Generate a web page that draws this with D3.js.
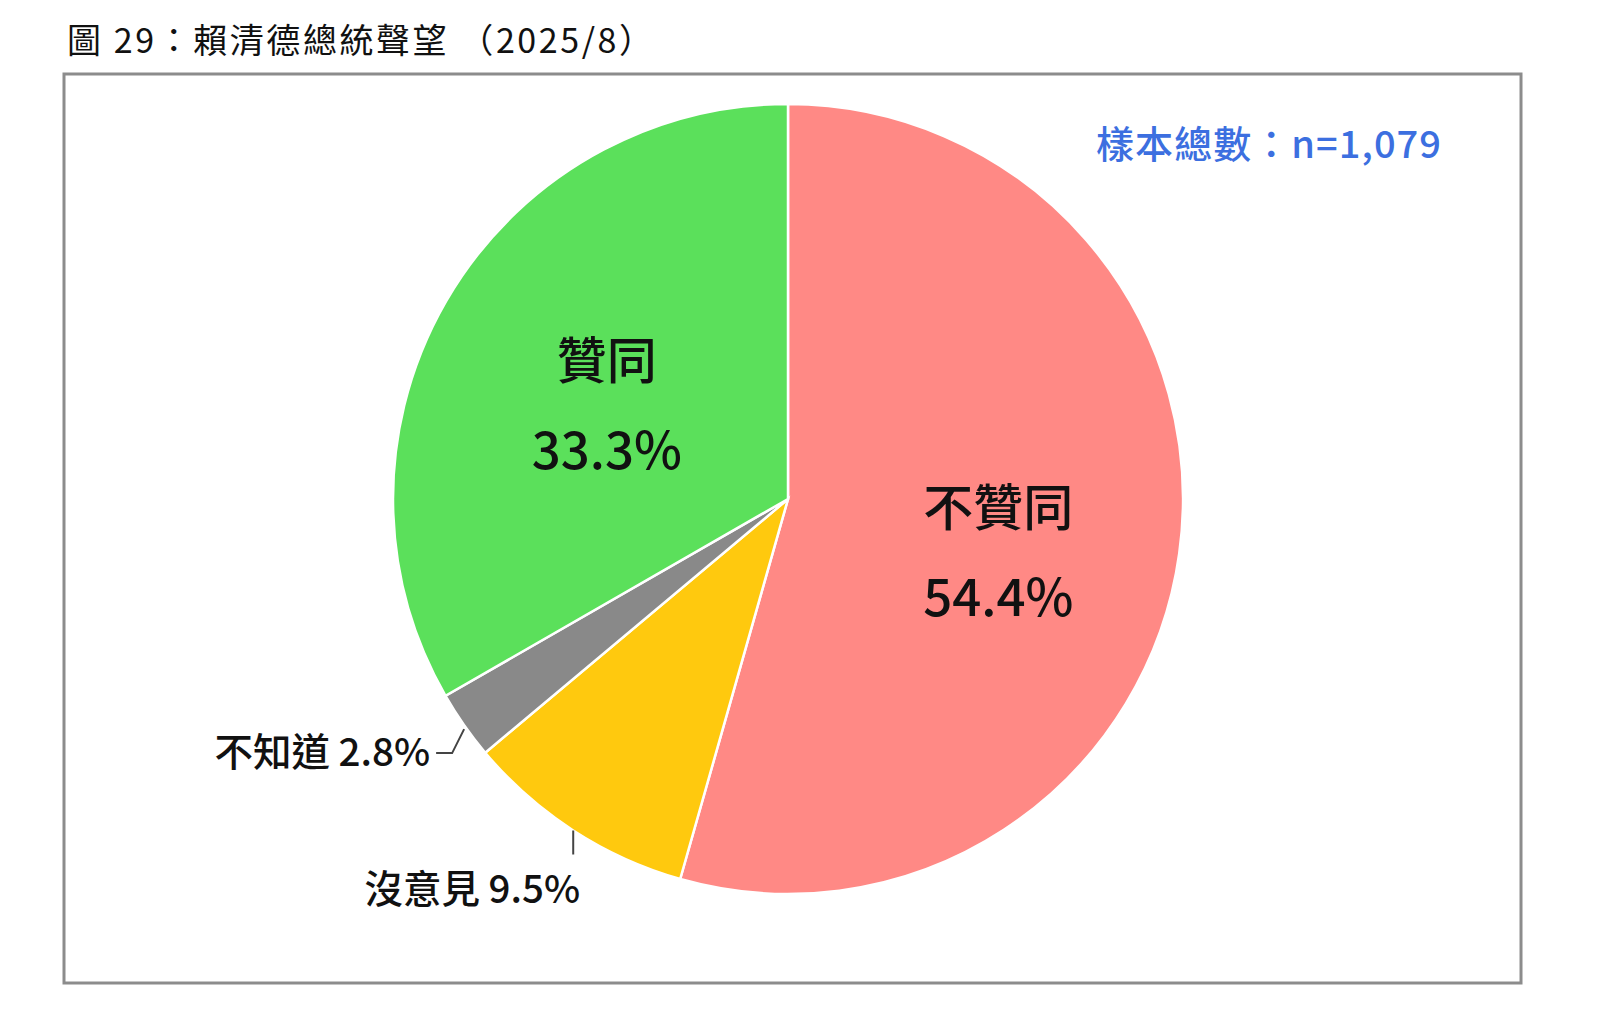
<!DOCTYPE html>
<html>
<head>
<meta charset="utf-8">
<script src="https://cdn.jsdelivr.net/npm/d3@7"></script>
<style>
  body { margin: 0; background: #fff; }
  text { font-family: "Noto Sans CJK TC", "Noto Sans", sans-serif; }
</style>
</head>
<body>
<svg id="chart" width="1614" height="1013"></svg>
<script>
// chart data
var categories = ["不贊同", "沒意見", "不知道", "贊同"];
var values = [54.4, 9.5, 2.8, 33.3];
var colors = ["#FF8985", "#FFC90E", "#898989", "#5BE05B"];
var titleText = "圖 29：賴清德總統聲望 （2025/8）";
var sampleText = "樣本總數：n=1,079";

var W = 1614, H = 1013;
var cx = 788, cy = 499, R = 395;

var svg = d3.select("#chart");
svg.append("rect").attr("width", W).attr("height", H).attr("fill", "#fff");

// title
svg.append("text")
  .attr("x", 67).attr("y", 53)
  .attr("font-family", "'Liberation Serif', 'Noto Sans CJK TC', serif")
  .attr("font-size", 34)
  .attr("textLength", 586).attr("lengthAdjust", "spacing")
  .attr("fill", "#111")
  .text(titleText);

// frame
svg.append("rect")
  .attr("x", 64).attr("y", 74)
  .attr("width", 1457).attr("height", 909)
  .attr("fill", "none").attr("stroke", "#8c8c8c").attr("stroke-width", 3);

var pie = d3.pie().sort(null).value(function(d) { return d; });
var arcs = pie(values);
var arc = d3.arc().innerRadius(0).outerRadius(R);
var labelArc = d3.arc().innerRadius(R * 0.53).outerRadius(R * 0.53);

var g = svg.append("g").attr("transform", "translate(" + cx + "," + cy + ")");

g.selectAll("path").data(arcs).enter().append("path")
  .attr("d", arc)
  .attr("fill", function(d, i) { return colors[i]; })
  .attr("stroke", "#fff").attr("stroke-width", 2.5);

// big labels inside the two large slices
var nudge = { "不贊同": [3, 25], "贊同": [0, 12] };
arcs.forEach(function(d, i) {
  var name = categories[i];
  if (!nudge[name]) return;
  var c = labelArc.centroid(d);
  var x = c[0] + nudge[name][0], y = c[1] + nudge[name][1];
  g.append("text").attr("x", x).attr("y", y - 27)
    .attr("text-anchor", "middle").attr("font-size", 50).attr("font-weight", 500)
    .attr("fill", "#111").text(name);
  g.append("text").attr("x", x).attr("y", y + 63)
    .attr("text-anchor", "middle").attr("font-size", 51).attr("font-weight", 500)
    .attr("fill", "#111").text(d3.format(".1f")(values[i]) + "%");
});

// small slice labels with leader lines
var edge = d3.arc().innerRadius(R).outerRadius(R);
function edgePoint(i) { return edge.centroid(arcs[i]); }

// 不知道
var p2 = edgePoint(2);
g.append("path")
  .attr("d", d3.line()([[p2[0], p2[1] + 4], [p2[0] - 12, p2[1] + 28], [p2[0] - 28, p2[1] + 28]]))
  .attr("fill", "none").attr("stroke", "#444").attr("stroke-width", 2);
g.append("text").attr("x", p2[0] - 34).attr("y", p2[1] + 41)
  .attr("text-anchor", "end").attr("font-size", 38.5).attr("font-weight", 500).attr("fill", "#111")
  .text(categories[2] + " " + d3.format(".1f")(values[2]) + "%");

// 沒意見
var p1 = edgePoint(1);
g.append("path")
  .attr("d", d3.line()([[p1[0], p1[1]], [p1[0], p1[1] + 24]]))
  .attr("fill", "none").attr("stroke", "#444").attr("stroke-width", 2);
g.append("text").attr("x", p1[0] - 101).attr("y", p1[1] + 73)
  .attr("text-anchor", "middle").attr("font-size", 38.5).attr("font-weight", 500).attr("fill", "#111")
  .text(categories[1] + " " + d3.format(".1f")(values[1]) + "%");

// sample size
svg.append("text")
  .attr("x", 1096).attr("y", 158)
  .attr("font-size", 38).attr("font-weight", 500)
  .attr("textLength", 345).attr("lengthAdjust", "spacing")
  .attr("fill", "#3C6FE0")
  .text(sampleText);
</script>
</body>
</html>
